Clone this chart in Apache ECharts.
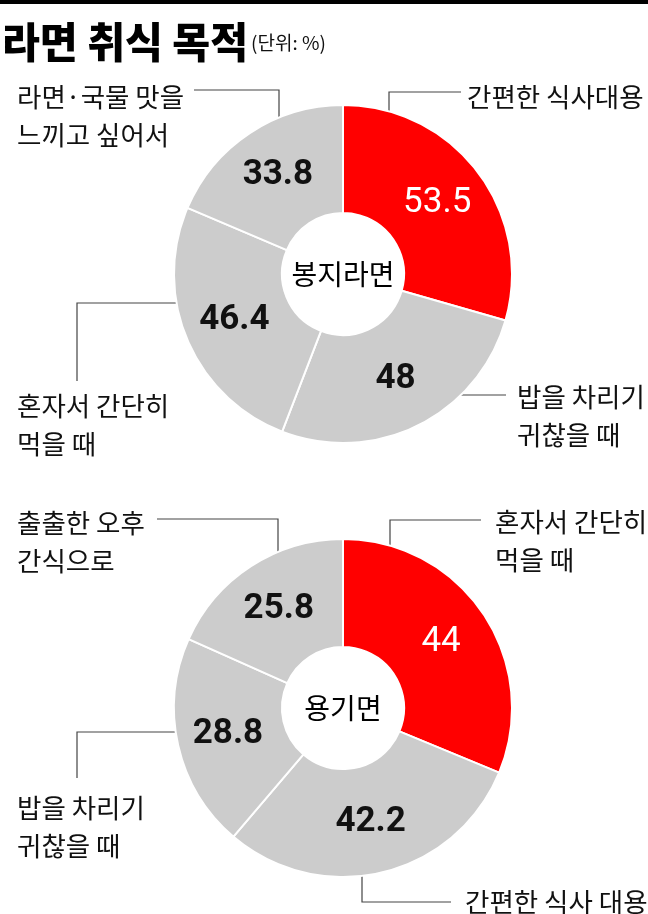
<!DOCTYPE html>
<html>
<head>
<meta charset="utf-8">
<script src="https://cdn.jsdelivr.net/npm/echarts@6/dist/echarts.min.js"></script>
<style>
  html, body { margin: 0; padding: 0; background: #fff; }
  #chart { width: 648px; height: 914px; }
</style>
</head>
<body>
<div id="chart"></div>
<script>
// Data (multiple answers, so shares add past 100)
const chartTitle = "라면 취식 목적";
const unitText = "(단위: %)";

const topName = "봉지라면";
const topCategories = ["간편한 식사대용", "밥을 차리기\n귀찮을 때", "혼자서 간단히\n먹을 때", "라면·국물 맛을\n느끼고 싶어서"];
const topValues = [53.5, 48, 46.4, 33.8];

const bottomName = "용기면";
const bottomCategories = ["혼자서 간단히\n먹을 때", "간편한 식사 대용", "밥을 차리기\n귀찮을 때", "출출한 오후\n간식으로"];
const bottomValues = [44, 42.2, 28.8, 25.8];

const sliceColors = ["#ff0000", "#cccccc", "#cccccc", "#cccccc"];
const valueColors = ["#ffffff", "#111111", "#111111", "#111111"];

// Layout: donut geometry and where each name label sits
const OUTER = 169;
const INNER = 61;
const donutCenters = [[343, 274], [343, 708]];

// line: first entry is where the leader touches the ring ([side, coord]), then elbow and end
const topSpots = [
  { text: [467, 97],  line: [["top", 389], [389, 92], [461, 92]] },
  { text: [517, 416], line: [["right", 395], [486, 395], [506, 395]] },
  { text: [17, 425],  line: [["left", 303], [77, 303], [77, 381]] },
  { text: [17, 116],  line: [["top", 279], [279, 90], [194, 90]] },
];
const bottomSpots = [
  { text: [495, 541], line: [["top", 390], [390, 520], [481, 520]] },
  { text: [465, 902], line: [["bottom", 362], [362, 902], [451, 902]] },
  { text: [17, 827],  line: [["left", 732], [77, 732], [77, 778]] },
  { text: [17, 542],  line: [["top", 278], [278, 519], [157, 519]] },
];

const KR = "Noto Sans CJK KR";
const NUM = "Roboto";

// point on the outer ring edge
function ringPoint(center, side, coord) {
  const [cx, cy] = center;
  if (side === "top" || side === "bottom") {
    const d = Math.sqrt(Math.max(0, OUTER * OUTER - (coord - cx) * (coord - cx)));
    return [coord, side === "top" ? cy - d : cy + d];
  }
  const d = Math.sqrt(Math.max(0, OUTER * OUTER - (coord - cy) * (coord - cy)));
  return [side === "left" ? cx - d : cx + d, coord];
}

function valueSeries(name, categories, values, center) {
  return {
    name: name,
    type: "pie",
    center: center,
    radius: [INNER, OUTER],
    startAngle: 90,
    clockwise: true,
    silent: true,
    animation: false,
    emphasis: { disabled: true },
    itemStyle: { borderColor: "#ffffff", borderWidth: 2 },
    label: {
      show: true,
      position: "inside",
      fontFamily: NUM,
      fontSize: 35,
      fontWeight: "bold",
      formatter: (p) => String(p.value),
    },
    labelLine: { show: false },
    data: values.map((v, i) => ({
      name: categories[i],
      value: v,
      itemStyle: { color: sliceColors[i] },
      label: { color: valueColors[i], fontWeight: i === 0 ? "normal" : "bold" },
    })),
  };
}

function nameSeries(name, categories, values, center, spots) {
  return {
    name: name + "-labels",
    type: "pie",
    center: center,
    radius: [INNER, OUTER],
    startAngle: 90,
    clockwise: true,
    silent: true,
    animation: false,
    avoidLabelOverlap: false,
    emphasis: { disabled: true },
    itemStyle: { color: "rgba(0,0,0,0)", borderWidth: 0 },
    label: {
      show: true,
      position: "outside",
      formatter: "{b}",
      fontFamily: KR,
      fontSize: 26.5,
      lineHeight: 38,
      color: "#111111",
    },
    labelLine: { show: true, smooth: false, lineStyle: { color: "#444444", width: 1.2 } },
    labelLayout: function (params) {
      const spot = spots[params.dataIndex];
      const first = ringPoint(center, spot.line[0][0], spot.line[0][1]);
      return {
        x: spot.text[0],
        y: spot.text[1],
        align: "left",
        verticalAlign: "middle",
        labelLinePoints: [first, spot.line[1], spot.line[2]],
      };
    },
    data: values.map((v, i) => ({ name: categories[i], value: v })),
  };
}

const chart = echarts.init(document.getElementById("chart"), null, { renderer: "canvas" });

chart.setOption({
  animation: false,
  backgroundColor: "#ffffff",
  graphic: [
    { type: "rect", left: 0, top: 0, shape: { width: 648, height: 4 }, style: { fill: "#000000" } },
    {
      type: "text", x: 2, y: 42, scaleX: 0.98,
      style: {
        text: chartTitle, fontFamily: KR, fontSize: 42, fontWeight: 900,
        fill: "#000000", verticalAlign: "middle",
      },
    },
    {
      type: "text", x: 251, y: 43,
      style: { text: unitText, fontFamily: KR, fontSize: 19, fill: "#111111", verticalAlign: "middle" },
    },
    {
      type: "text", x: donutCenters[0][0], y: donutCenters[0][1],
      style: {
        text: topName, fontFamily: KR, fontSize: 28, fill: "#000000",
        align: "center", verticalAlign: "middle",
      },
    },
    {
      type: "text", x: donutCenters[1][0], y: donutCenters[1][1],
      style: {
        text: bottomName, fontFamily: KR, fontSize: 28, fill: "#000000",
        align: "center", verticalAlign: "middle",
      },
    },
  ],
  series: [
    valueSeries(topName, topCategories, topValues, donutCenters[0]),
    nameSeries(topName, topCategories, topValues, donutCenters[0], topSpots),
    valueSeries(bottomName, bottomCategories, bottomValues, donutCenters[1]),
    nameSeries(bottomName, bottomCategories, bottomValues, donutCenters[1], bottomSpots),
  ],
});

window.addEventListener("resize", () => chart.resize());
</script>
</body>
</html>
